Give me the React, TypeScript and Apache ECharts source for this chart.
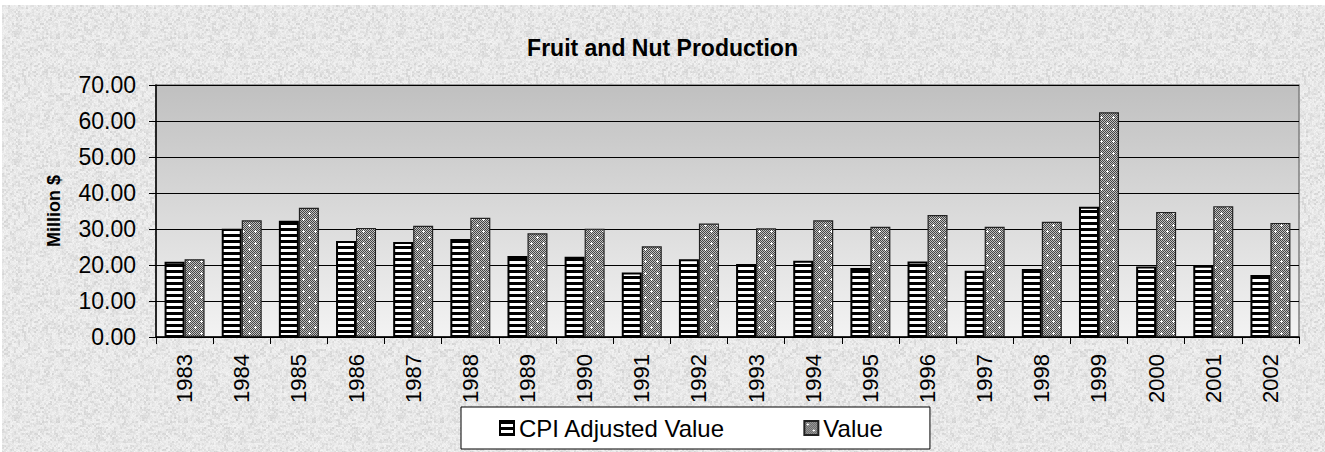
import React, { useEffect, useRef, useState } from "react";
import * as echarts from "echarts";

const years = ["1983", "1984", "1985", "1986", "1987", "1988", "1989", "1990", "1991", "1992", "1993", "1994", "1995", "1996", "1997", "1998", "1999", "2000", "2001", "2002"];
const cpiAdjustedValue = [20.9, 30.1, 32.3, 26.7, 26.4, 27.2, 22.5, 22.3, 17.9, 21.6, 20.3, 21.2, 19.2, 21.0, 18.4, 18.9, 36.2, 19.6, 19.8, 17.2];
const productionValue = [21.6, 32.4, 35.9, 30.3, 30.9, 33.1, 28.8, 30.1, 25.2, 31.5, 30.2, 32.4, 30.6, 33.9, 30.6, 32.0, 62.4, 34.7, 36.3, 31.7];
const yTicks = { min: 0, max: 70, interval: 10 };

const FONT = "Liberation Sans, Arial, sans-serif";

function stripeTile(): string {
  const c = document.createElement("canvas");
  c.width = 8;
  c.height = 6;
  const g = c.getContext("2d")!;
  g.fillStyle = "#ffffff";
  g.fillRect(0, 0, 8, 6);
  g.fillStyle = "#000000";
  g.fillRect(0, 0, 8, 3);
  return c.toDataURL();
}

function stippleTile(): string {
  const c = document.createElement("canvas");
  c.width = 12;
  c.height = 12;
  const g = c.getContext("2d")!;
  for (let y = 0; y < 12; y++) {
    for (let x = 0; x < 12; x++) {
      g.fillStyle = (x + y) % 2 === 0 ? "#444444" : "#c0c0c0";
      g.fillRect(x, y, 1, 1);
    }
  }
  g.fillStyle = "#ffffff";
  const plus = (cx: number, cy: number) => {
    g.fillRect(cx - 1, cy, 3, 1);
    g.fillRect(cx, cy - 1, 1, 3);
  };
  plus(3, 3);
  plus(9, 9);
  return c.toDataURL();
}

function textureTile(): string {
  const n = 128;
  const c = document.createElement("canvas");
  c.width = n;
  c.height = n;
  const g = c.getContext("2d")!;
  const hash = (i: number) => {
    const s = Math.sin(i * 12.9898 + 78.233) * 43758.5453;
    return s - Math.floor(s);
  };
  for (let y = 0; y < n; y++) {
    for (let x = 0; x < n; x++) {
      const a = hash(x * 131 + y * 7919);
      const b = hash(Math.floor(x / 2) * 37 + Math.floor(y / 2) * 1013 + 5);
      const v = Math.round(244 - a * 12 - b * b * 24);
      g.fillStyle = `rgb(${v},${v},${v})`;
      g.fillRect(x, y, 1, 1);
    }
  }
  return c.toDataURL();
}

export default function App() {
  const ref = useRef<HTMLDivElement>(null);
  const [bg, setBg] = useState<string>("");

  useEffect(() => {
    setBg(textureTile());
    if (!ref.current) return;
    const chart = echarts.init(ref.current, null, { renderer: "svg" });
    const stripes = { image: stripeTile(), repeat: "repeat" };
    const stipple = { image: stippleTile(), repeat: "repeat" };
    chart.setOption({
      animation: false,
      backgroundColor: "transparent",
      title: {
        text: "Fruit and Nut Production",
        left: "center",
        top: 31,
        textStyle: { fontFamily: FONT, fontSize: 23, fontWeight: "bold", color: "#000" },
      },
      legend: {
        left: 461,
        top: 407,
        padding: [9, 47, 9, 38],
        itemGap: 78,
        itemWidth: 14,
        itemHeight: 14,
        icon: "rect",
        borderColor: "#000",
        borderWidth: 1,
        backgroundColor: "#ffffff",
        textStyle: { fontFamily: FONT, fontSize: 24, color: "#000" },
        data: ["CPI Adjusted Value", "Value"],
      },
      grid: {
        left: 156,
        right: 26,
        top: 85,
        bottom: 115,
        show: true,
        borderColor: "#808080",
        borderWidth: 1.5,
        backgroundColor: new echarts.graphic.LinearGradient(0, 0, 0, 1, [
          { offset: 0, color: "#c0c0c0" },
          { offset: 1, color: "#f3f3f3" },
        ]),
      },
      xAxis: {
        type: "category",
        data: years,
        axisLine: { lineStyle: { color: "#000", width: 1.5 } },
        axisTick: { show: true, length: 7, lineStyle: { color: "#000" } },
        axisLabel: {
          rotate: 90,
          margin: 17,
          fontFamily: FONT,
          fontSize: 22,
          color: "#000",
        },
      },
      yAxis: {
        type: "value",
        min: yTicks.min,
        max: yTicks.max,
        interval: yTicks.interval,
        name: "Million $",
        nameLocation: "middle",
        nameGap: 93,
        nameTextStyle: { fontFamily: FONT, fontSize: 18, fontWeight: "bold", color: "#000" },
        axisLine: { show: true, lineStyle: { color: "#000", width: 1.5 } },
        axisTick: { show: true, length: 7, lineStyle: { color: "#000" } },
        splitLine: { show: true, lineStyle: { color: "#000", width: 1 } },
        axisLabel: {
          margin: 20,
          fontFamily: FONT,
          fontSize: 23,
          color: "#000",
          formatter: (v: number) => v.toFixed(2),
        },
      },
      series: [
        {
          name: "CPI Adjusted Value",
          type: "bar",
          data: cpiAdjustedValue,
          barWidth: 20,
          barGap: "0%",
          itemStyle: { color: stripes, borderColor: "#000", borderWidth: 2 },
        },
        {
          name: "Value",
          type: "bar",
          data: productionValue,
          barWidth: 20,
          itemStyle: { color: stipple, borderColor: "#222", borderWidth: 1.2 },
        },
      ],
    });
    return () => chart.dispose();
  }, []);

  return (
    <div style={{ position: "absolute", left: 0, top: 0, width: 1325, height: 452, background: "#ffffff", overflow: "hidden" }}>
      <div
        style={{
          position: "absolute",
          left: 2,
          top: 5,
          right: 0,
          bottom: 0,
          backgroundColor: "#e6e6e6",
          backgroundImage: bg ? `url(${bg})` : undefined,
          backgroundRepeat: "repeat",
        }}
      />
      <div ref={ref} style={{ position: "absolute", left: 0, top: 0, width: 1325, height: 452 }} />
    </div>
  );
}
